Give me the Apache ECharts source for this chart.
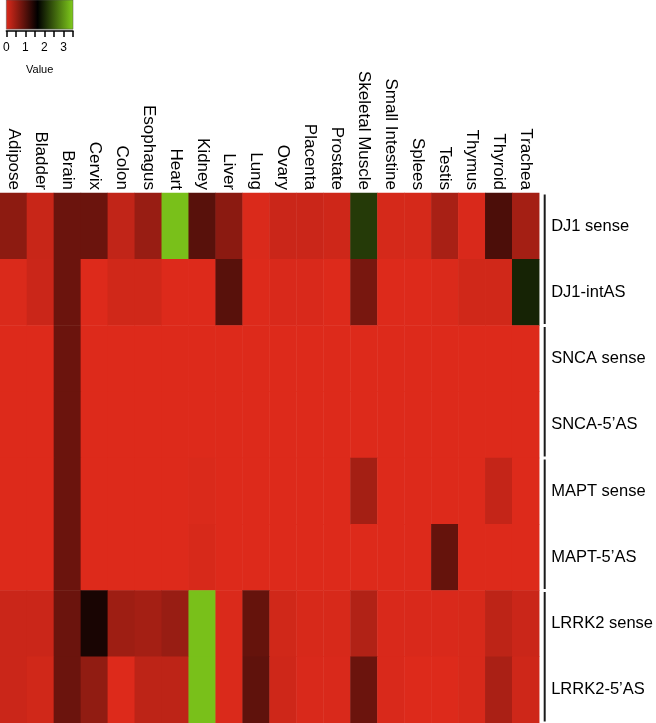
<!DOCTYPE html>
<html>
<head>
<meta charset="utf-8">
<script src="https://cdn.jsdelivr.net/npm/echarts@6/dist/echarts.min.js"></script>
<style>
html,body{margin:0;padding:0;background:#fff;}
#chart{width:656px;height:723px;}
</style>
</head>
<body>
<div id="chart"></div>
<script>
const tissues = ['Adipose','Bladder','Brain','Cervix','Colon','Esophagus','Heart','Kidney','Liver','Lung','Ovary','Placenta','Prostate','Skeletal Muscle','Small Intestine','Splees','Testis','Thymus','Thyroid','Trachea'];
const transcripts = ['DJ1 sense','DJ1-intAS','SNCA sense','SNCA-5\u2019AS','MAPT sense','MAPT-5\u2019AS','LRRK2 sense','LRRK2-5\u2019AS'];
const groups = [[0,1],[2,3],[4,5],[6,7]];
const legendTicks = [0,1,2,3];

const dj1Sense   = [0.63,0.17,0.9,0.9,0.22,0.55,3.4,1.05,0.65,0.02,0.15,0.15,0.12,2.25,0.06,0.06,0.42,0.03,1.15,0.45];
const dj1IntAS   = [0.02,0.15,0.9,0.0,0.1,0.1,0.0,0.0,1.05,0.0,0.03,0.03,0.0,0.8,0.0,0.0,0.02,0.1,0.1,2.05];
const sncaSense  = [0.0,0.0,0.9,0.0,0.0,0.0,0.0,0.0,0.0,0.0,0.0,0.0,0.0,0.0,0.0,0.0,0.0,0.0,0.0,0.0];
const snca5AS    = [0.0,0.0,0.9,0.0,0.0,0.0,0.0,0.0,0.0,0.0,0.0,0.0,0.0,0.0,0.0,0.0,0.0,0.0,0.0,0.0];
const maptSense  = [0.0,0.0,0.9,0.0,0.0,0.0,0.0,0.02,0.0,0.0,0.0,0.0,0.0,0.45,0.0,0.0,0.0,0.0,0.2,0.0];
const mapt5AS    = [0.0,0.0,0.9,0.0,0.0,0.0,0.0,0.05,0.0,0.0,0.0,0.0,0.0,0.0,0.0,0.0,0.95,0.0,0.0,0.0];
const lrrk2Sense = [0.15,0.15,0.9,1.55,0.5,0.45,0.55,3.4,0.02,0.95,0.1,0.05,0.05,0.35,0.03,0.03,0.03,0.05,0.25,0.15];
const lrrk25AS   = [0.15,0.1,0.9,0.6,0.0,0.25,0.25,3.4,0.02,1.0,0.12,0.03,0.03,0.9,0.03,0.0,0.0,0.05,0.4,0.12];

const rows = [dj1Sense,dj1IntAS,sncaSense,snca5AS,maptSense,mapt5AS,lrrk2Sense,lrrk25AS];
const data = [];
rows.forEach((r, yi) => r.forEach((v, xi) => data.push([xi, yi, v])));

const RED = '#dd2a1b', BLACK = '#000000', GREEN = '#80cc1c';
const FONT = "'Liberation Sans', Arial, Helvetica, sans-serif";

const chart = echarts.init(document.getElementById('chart'));
chart.setOption({
  animation: false,
  backgroundColor: '#fff',
  textStyle: { fontFamily: FONT },
  grid: [
    { left: 0, top: 193, width: 540, height: 530 },
    { left: 3, top: 0, width: 70, height: 31 }
  ],
  xAxis: [
    { type: 'category', data: tissues, position: 'top', gridIndex: 0,
      axisLine: { show: false }, axisTick: { show: false }, splitLine: { show: false },
      axisLabel: { rotate: 90, fontSize: 17, color: '#000', margin: 3, fontFamily: FONT } },
    { type: 'value', gridIndex: 1, min: 0, max: 3.5, interval: 0.5, position: 'bottom',
      axisLine: { show: true, lineStyle: { color: '#000', width: 1.5 } },
      axisTick: { show: true, length: 6, lineStyle: { color: '#000', width: 1.5 } },
      splitLine: { show: false },
      axisLabel: { fontSize: 12, color: '#000', margin: 11, fontFamily: FONT,
        formatter: v => legendTicks.indexOf(v) >= 0 ? String(v) : '' },
      name: 'Value', nameLocation: 'middle', nameGap: 33,
      nameTextStyle: { fontSize: 11, color: '#000', fontFamily: FONT } }
  ],
  yAxis: [
    { type: 'category', data: transcripts, inverse: true, position: 'right', gridIndex: 0,
      axisLine: { show: false }, axisTick: { show: false }, splitLine: { show: false },
      axisLabel: { fontSize: 16.5, color: '#000', margin: 12, fontFamily: FONT } },
    { type: 'value', gridIndex: 1, min: 0, max: 1, show: false }
  ],
  visualMap: {
    show: false, seriesIndex: 0, min: 0, max: 3.5,
    inRange: { color: [RED, BLACK, GREEN] }
  },
  series: [
    { type: 'heatmap', xAxisIndex: 0, yAxisIndex: 0, data: data,
      itemStyle: { borderWidth: 0 }, emphasis: { disabled: true } },
    { type: 'scatter', xAxisIndex: 1, yAxisIndex: 1, data: [[0, 0]], symbolSize: 0, silent: true,
      markArea: { silent: true,
        itemStyle: {
          color: new echarts.graphic.LinearGradient(0, 0, 1, 0, [
            { offset: 0, color: RED }, { offset: 0.47, color: BLACK }, { offset: 1, color: GREEN }
          ]),
          borderColor: '#555', borderWidth: 0.5, opacity: 1
        },
        data: [[{ xAxis: 0, yAxis: 0.06 }, { xAxis: 3.5, yAxis: 1 }]] } }
  ]
});

// group brackets derived from the axes
const c0 = chart.convertToPixel({ xAxisIndex: 0 }, tissues[0]);
const c1 = chart.convertToPixel({ xAxisIndex: 0 }, tissues[1]);
const colW = c1 - c0;
const rightEdge = chart.convertToPixel({ xAxisIndex: 0 }, tissues[tissues.length - 1]) + colW / 2;
const r0 = chart.convertToPixel({ yAxisIndex: 0 }, transcripts[0]);
const r1 = chart.convertToPixel({ yAxisIndex: 0 }, transcripts[1]);
const rowH = r1 - r0;
const elements = groups.map(g => {
  const top = chart.convertToPixel({ yAxisIndex: 0 }, transcripts[g[0]]) - rowH / 2 + 1.5;
  const bot = chart.convertToPixel({ yAxisIndex: 0 }, transcripts[g[1]]) + rowH / 2 - 1.5;
  return { type: 'line', shape: { x1: rightEdge + 5.5, y1: top, x2: rightEdge + 5.5, y2: bot },
           style: { stroke: '#1a1a1a', lineWidth: 2 }, silent: true };
});
chart.setOption({ graphic: elements });
</script>
</body>
</html>
